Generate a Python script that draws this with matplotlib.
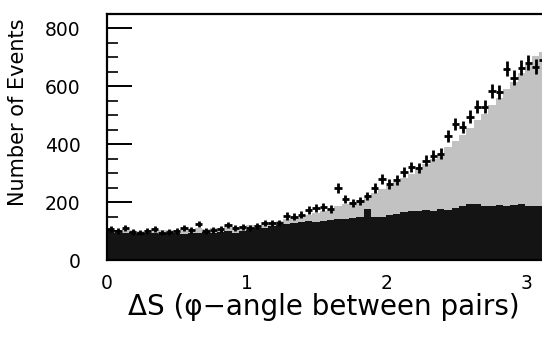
import numpy as np
import matplotlib
matplotlib.use("Agg")
import matplotlib.pyplot as plt
from matplotlib.ticker import MultipleLocator

# 60 bins from 0 to pi
n_bins = 60
x_max = np.pi

data_counts = [107, 100, 111, 98, 95, 100, 107, 95, 98, 100,
               111, 103, 125, 100, 105, 108, 121, 112, 115, 111,
               118, 128, 128, 128, 152, 149, 156, 173, 180, 183,
               176, 249, 211, 197, 204, 221, 249, 280, 263, 277,
               305, 322, 318, 343, 360, 367, 429, 470, 460, 495,
               530, 530, 585, 581, 661, 630, 664, 682, 668, 690]

mc_total = [106, 104, 108, 103, 101, 104, 106, 102, 104, 105,
            108, 106, 112, 107, 110, 112, 116, 114, 118, 120,
            122, 127, 131, 134, 140, 143, 150, 157, 163, 170,
            176, 185, 192, 200, 208, 222, 232, 244, 255, 268,
            284, 298, 312, 330, 348, 366, 390, 412, 432, 455,
            485, 505, 535, 560, 590, 615, 645, 675, 705, 720]

background = [100, 95, 92, 97, 90, 95, 93, 90, 92, 95,
              90, 95, 92, 97, 95, 98, 100, 95, 100, 105,
              110, 112, 118, 120, 125, 128, 130, 135, 132, 136,
              138, 140, 142, 145, 150, 175, 150, 150, 155, 160,
              165, 168, 170, 172, 170, 175, 172, 178, 185, 192,
              192, 188, 185, 190, 185, 190, 192, 188, 185, 185]

x_ticks = [0, 1, 2, 3]
y_ticks = [0, 200, 400, 600, 800]

edges = np.linspace(0, x_max, n_bins + 1)
centers = 0.5 * (edges[:-1] + edges[1:])
half_w = 0.5 * (edges[1] - edges[0])

fig = plt.figure(figsize=(5.42, 3.41), dpi=100)
ax = fig.add_axes([107 / 542, 81 / 341, (140 * np.pi) / 542, 246 / 341])

ax.stairs(mc_total, edges, fill=True, color="#c2c2c2", zorder=1)
ax.stairs(background, edges, fill=True, color="#141414", zorder=2)

data = np.array(data_counts, dtype=float)
ax.errorbar(centers, data, xerr=half_w, yerr=np.sqrt(data), fmt="none",
            ecolor="black", elinewidth=2.0, capsize=0, zorder=3)

ax.set_xlim(0, x_max)
ax.set_ylim(0, 850)
ax.set_xticks(x_ticks)
ax.set_yticks(y_ticks)
ax.yaxis.set_minor_locator(MultipleLocator(50))

for s in ax.spines.values():
    s.set_linewidth(1.6)

ax.tick_params(axis="y", which="major", direction="in", length=18, width=1.4,
               labelsize=13.5, pad=19)
ax.tick_params(axis="y", which="minor", direction="in", length=8, width=1.2)
ax.tick_params(axis="x", which="major", direction="in", length=0,
               labelsize=13.5, pad=10)

fig.text(0.5 * (108 + 540) / 542, 1 - 307 / 341,
         "\u0394S (\u03c6\u2212angle between pairs)",
         ha="center", va="center", fontsize=20)
fig.text(18 / 542, 1 - 112 / 341, "Number of Events", rotation=90,
         ha="center", va="center", fontsize=15)

fig.savefig("out.png", dpi=100)
